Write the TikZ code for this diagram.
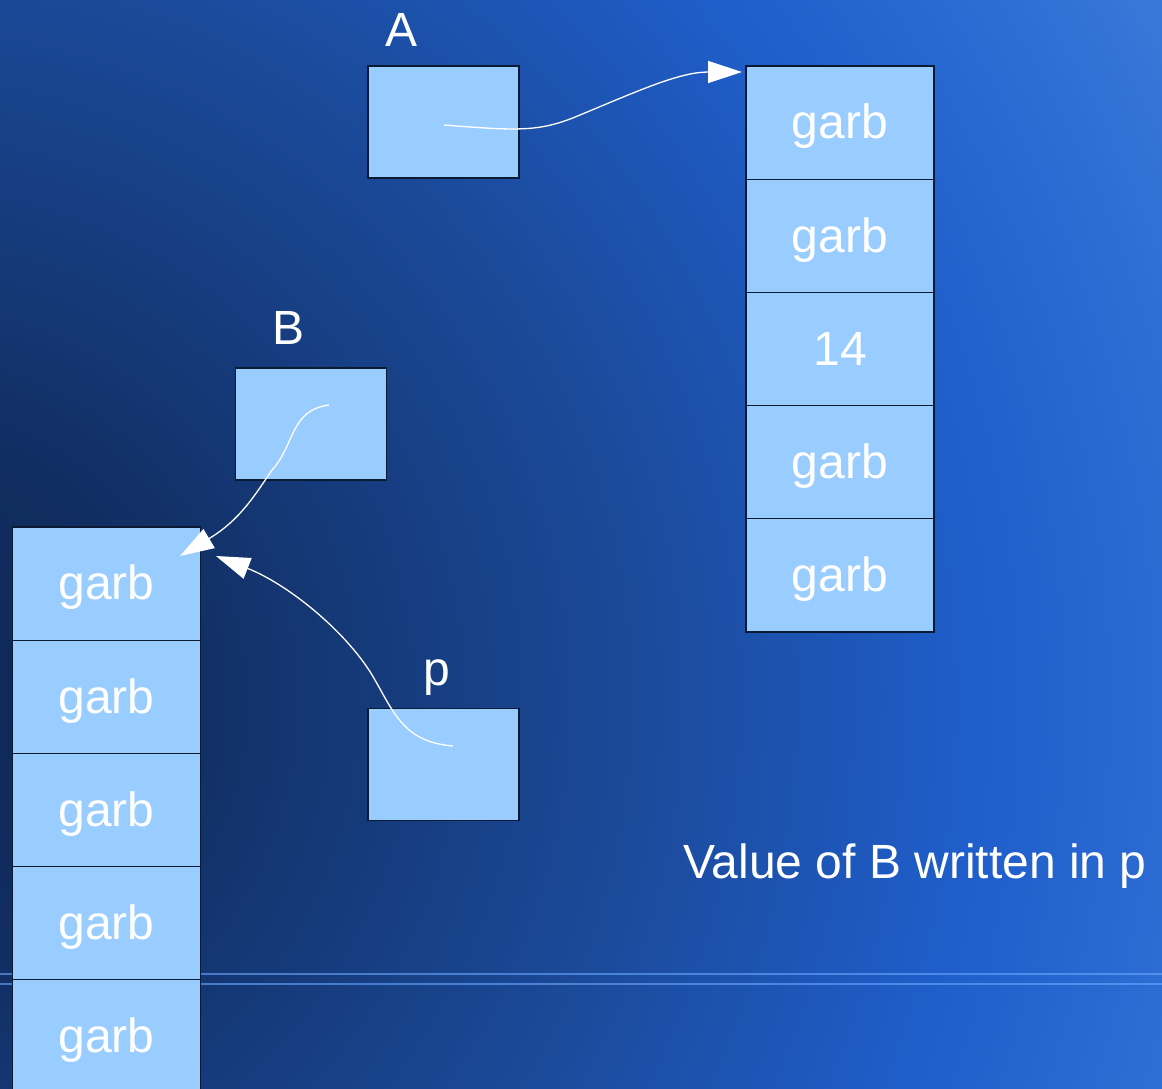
\documentclass[tikz,border=0pt]{standalone}
\usepackage{fontspec}
\setmainfont{Liberation Sans}
\usetikzlibrary{arrows.meta}

% background glow colours, dark at lower left, bright at upper right
\definecolor{bgA}{HTML}{0E2754}
\definecolor{bgB}{HTML}{112E62}
\definecolor{bgC}{HTML}{1B4A9A}
\definecolor{bgD}{HTML}{1F5ECB}
\definecolor{bgE}{HTML}{2A6AD2}
\definecolor{bgF}{HTML}{3A78D8}
\definecolor{rule}{HTML}{6AA8FF}
\definecolor{boxfill}{HTML}{99CCFF}
\definecolor{boxline}{HTML}{0B1A33}

% the path's bounding box maps onto the central 25bp radius
\pgfdeclareradialshading{bgglow}{\pgfpoint{0bp}{0bp}}{%
  color(0bp)=(bgA); color(4.5bp)=(bgB); color(12.3bp)=(bgC);
  color(18bp)=(bgD); color(21bp)=(bgE); color(24bp)=(bgF); color(50bp)=(bgF)}

\newcommand\bigtext{\fontsize{48}{57}\selectfont}

\tikzset{
  box/.style={draw=boxline, fill=boxfill, line width=1.2pt,
    minimum width=151pt, minimum height=112pt, inner sep=0pt},
  cell/.style={box, minimum width=188pt, minimum height=113.2pt,
    text=white, font=\bigtext, text height=38pt, text depth=5.6pt},
  lbl/.style={text=white, font=\bigtext, inner sep=0pt},
  ptr/.style={draw=white, line width=1.3pt,
    -{Triangle[length=34pt,width=22pt,fill=white]}},
  rulebar/.style={draw=rule, draw opacity=0.6, line width=2.2pt}
}

\begin{document}
\begin{tikzpicture}[x=1pt,y=-1pt]
  \useasboundingbox (0,0) rectangle (1162,1088);
  \begin{scope}
    \clip (0,0) rectangle (1162,1088);

    % background
    \shade[shading=bgglow] (-100,700) circle[radius=1500];
    \draw[rulebar] (0,974.3) -- (1162,974.3);
    \draw[rulebar] (0,984.3) -- (1162,984.3);

    % single variables
    \node[box] (A) at (443.5,122) {};
    \node[lbl, anchor=base] (Alabel) at (402,46) {A};
    \node[box] (B) at (311,424) {};
    \node[lbl, anchor=base] (Blabel) at (289,344) {B};
    \node[box] (p) at (443.5,764.5) {};
    \node[lbl, anchor=base] (plabel) at (437,685) {p};

    % array on the right
    \node[cell] (r1) at (840,122.6) {garb};
    \node[cell] (r2) at (840,235.8) {garb};
    \node[cell, text height=39.2pt] (r3) at (840,349.0) {14};
    \node[cell] (r4) at (840,462.2) {garb};
    \node[cell] (r5) at (840,575.4) {garb};

    % array on the left
    \node[cell] (l1) at (106.5,583.6) {garb};
    \node[cell] (l2) at (106.5,696.8) {garb};
    \node[cell] (l3) at (106.5,810.0) {garb};
    \node[cell] (l4) at (106.5,923.2) {garb};
    \node[cell] (l5) at (106.5,1036.4) {garb};

    \node[lbl, anchor=base west] (caption) at (683,878) {Value of B written in p};

    % pointer end points
    \coordinate (aFrom) at (444,125);
    \coordinate (aTo) at (742,72);
    \coordinate (bFrom) at (329,405);
    \coordinate (bTo) at (180,556);
    \coordinate (pFrom) at (453,746);
    \coordinate (pTo) at (216,556);

    % pointers
    \draw[ptr] (aFrom) .. controls (520,131) and (540,132) .. (580,115)
                       .. controls (640,90) and (680,72) .. (aTo);
    \draw[ptr] (bFrom) .. controls (290,410) and (295,445) .. (272,470)
                       .. controls (255,495) and (240,520) .. (bTo);
    \draw[ptr] (pFrom) .. controls (405,742) and (395,715) .. (375,680)
                       .. controls (350,635) and (290,585) .. (pTo);
  \end{scope}
\end{tikzpicture}
\end{document}
